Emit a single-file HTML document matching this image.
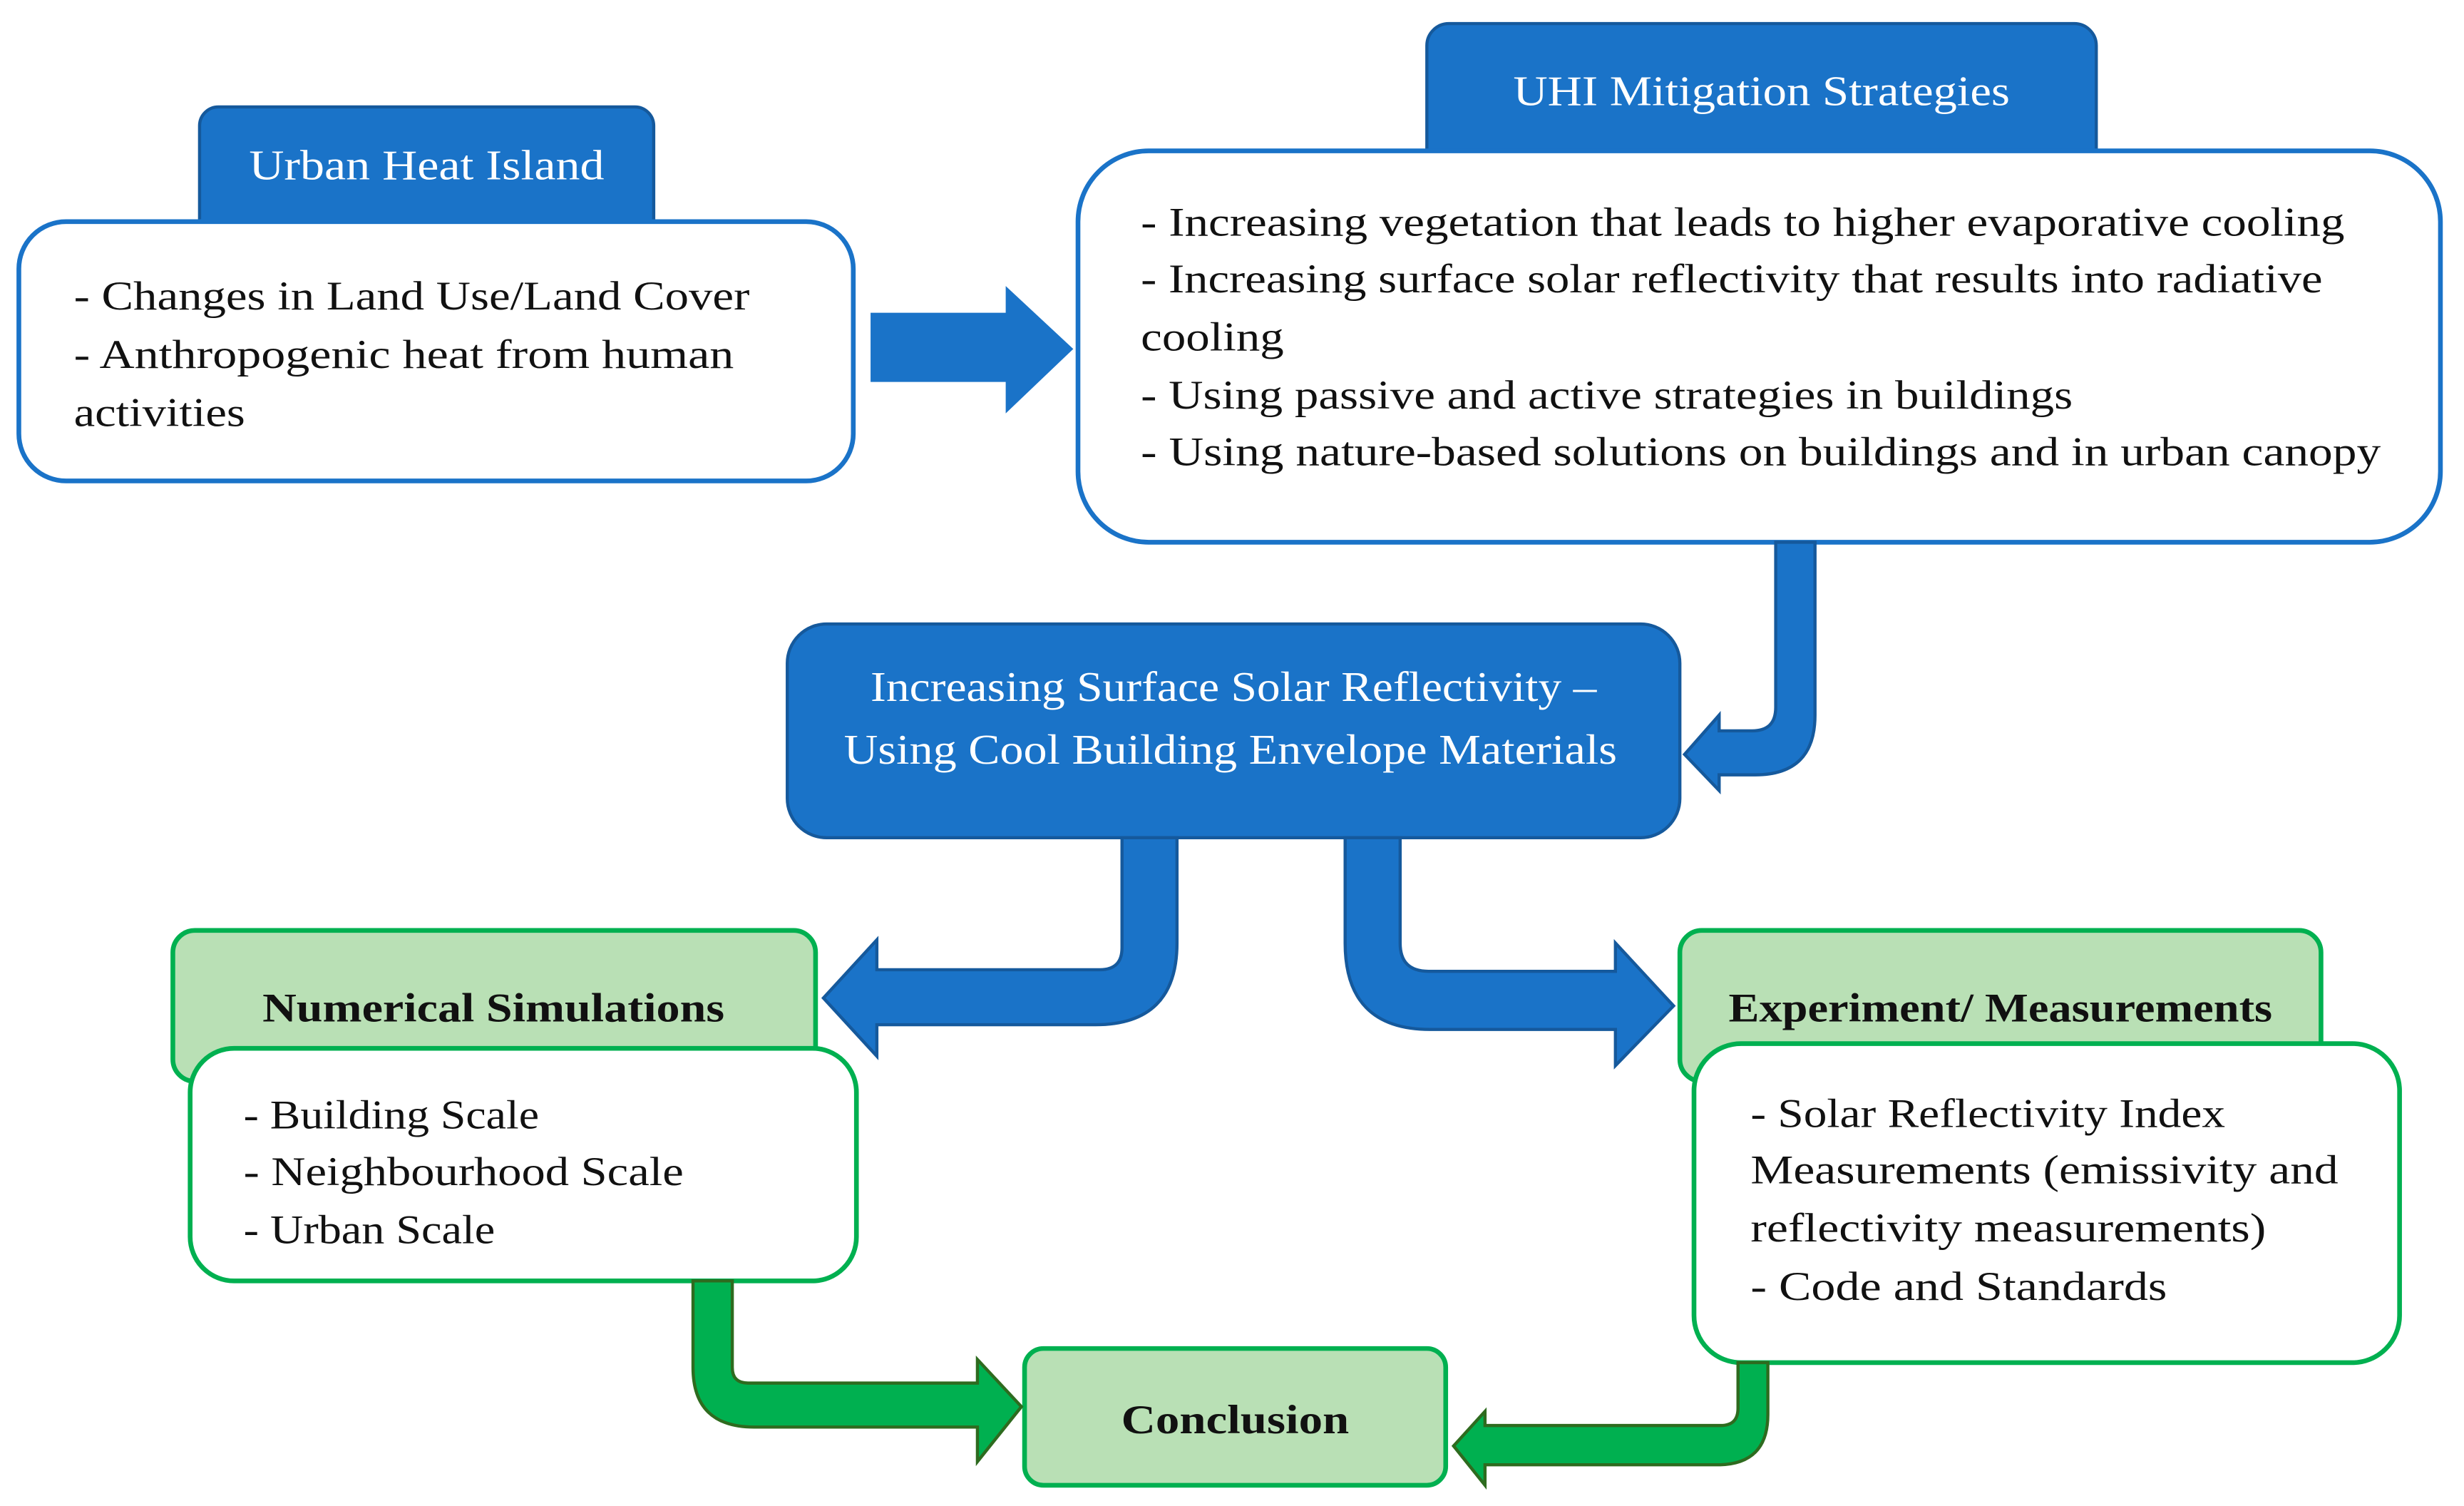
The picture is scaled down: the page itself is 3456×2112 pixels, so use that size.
<!DOCTYPE html>
<html><head><meta charset="utf-8"><style>
html,body{margin:0;padding:0;background:#fff;}
svg{display:block;}
text{font-family:"Liberation Serif",serif;}
</style></head><body>
<svg width="3456" height="2112" viewBox="0 0 1568 958.2" xmlns="http://www.w3.org/2000/svg">
<rect width="1568" height="958.2" fill="#fff"/>
<!-- Urban Heat Island -->
<rect x="127" y="68" width="289" height="90" rx="12" fill="#1a73c8" stroke="#15599c" stroke-width="2"/>
<text x="271.5" y="114" fill="#fff" font-size="27" text-anchor="middle" textLength="226" lengthAdjust="spacingAndGlyphs">Urban Heat Island</text>
<rect x="12" y="141" width="531" height="165" rx="30" fill="#fff" stroke="#1a73c8" stroke-width="3"/>
<g font-size="26" fill="#111">
<text x="47" y="197" textLength="430" lengthAdjust="spacingAndGlyphs">- Changes in Land Use/Land Cover</text>
<text x="47" y="234" textLength="420" lengthAdjust="spacingAndGlyphs">- Anthropogenic heat from human</text>
<text x="47" y="271" textLength="109" lengthAdjust="spacingAndGlyphs">activities</text>
</g>
<!-- straight arrow -->
<path d="M554,199 L640,199 L640,182 L683,222 L640,263 L640,243 L554,243 Z" fill="#1a73c8"/>
<!-- UHI Mitigation -->
<rect x="908" y="15" width="426" height="100" rx="14" fill="#1a73c8" stroke="#15599c" stroke-width="2"/>
<text x="1121" y="67" fill="#fff" font-size="27" text-anchor="middle" textLength="316" lengthAdjust="spacingAndGlyphs">UHI Mitigation Strategies</text>
<rect x="686" y="96" width="867" height="249" rx="45" fill="#fff" stroke="#1a73c8" stroke-width="3"/>
<g font-size="26" fill="#111">
<text x="726" y="150" textLength="766" lengthAdjust="spacingAndGlyphs">- Increasing vegetation that leads to higher evaporative cooling</text>
<text x="726" y="186" textLength="752" lengthAdjust="spacingAndGlyphs">- Increasing surface solar reflectivity that results into radiative</text>
<text x="726" y="223" textLength="91" lengthAdjust="spacingAndGlyphs">cooling</text>
<text x="726" y="260" textLength="593" lengthAdjust="spacingAndGlyphs">- Using passive and active strategies in buildings</text>
<text x="726" y="296" textLength="789" lengthAdjust="spacingAndGlyphs">- Using nature-based solutions on buildings and in urban canopy</text>
</g>
<!-- connector down-left -->
<path d="M1130,345 L1155,345 L1155,455 Q1155,493 1117,493 L1094,493 L1094,503 L1072,480 L1094,455 L1094,465 L1115,465 Q1130,465 1130,450 Z" fill="#1a73c8" stroke="#15599c" stroke-width="2"/>
<!-- central box -->
<rect x="501" y="397" width="568" height="136" rx="25" fill="#1a73c8" stroke="#15599c" stroke-width="2"/>
<text x="785" y="446" fill="#fff" font-size="27" text-anchor="middle" textLength="462" lengthAdjust="spacingAndGlyphs">Increasing Surface Solar Reflectivity –</text>
<text x="783" y="486" fill="#fff" font-size="27" text-anchor="middle" textLength="492" lengthAdjust="spacingAndGlyphs">Using Cool Building Envelope Materials</text>
<!-- bent arrows -->
<path d="M714,533 L749,533 L749,600 Q749,652 697,652 L558,652 L558,672 L524,635 L558,598 L558,617 L700,617 Q714,617 714,603 Z" fill="#1a73c8" stroke="#15599c" stroke-width="2"/>
<path d="M856,533 L891,533 L891,600 Q891,618 909,618 L1028,618 L1028,600 L1065,640 L1028,678 L1028,655 L910,655 Q856,655 856,600 Z" fill="#1a73c8" stroke="#15599c" stroke-width="2"/>
<!-- Numerical -->
<rect x="110" y="592" width="409" height="96" rx="14" fill="#b9e0b5" stroke="#00b050" stroke-width="3"/>
<text x="314" y="650" font-size="26" font-weight="bold" fill="#111" text-anchor="middle" textLength="294" lengthAdjust="spacingAndGlyphs">Numerical Simulations</text>
<rect x="121" y="667" width="424" height="148" rx="28" fill="#fff" stroke="#00b050" stroke-width="3"/>
<g font-size="26" fill="#111">
<text x="155" y="718" textLength="188" lengthAdjust="spacingAndGlyphs">- Building Scale</text>
<text x="155" y="754" textLength="280" lengthAdjust="spacingAndGlyphs">- Neighbourhood Scale</text>
<text x="155" y="791" textLength="160" lengthAdjust="spacingAndGlyphs">- Urban Scale</text>
</g>
<!-- Experiment -->
<rect x="1069" y="592" width="408" height="96" rx="14" fill="#b9e0b5" stroke="#00b050" stroke-width="3"/>
<text x="1273" y="650" font-size="26" font-weight="bold" fill="#111" text-anchor="middle" textLength="346" lengthAdjust="spacingAndGlyphs">Experiment/ Measurements</text>
<rect x="1078" y="664" width="449" height="203" rx="30" fill="#fff" stroke="#00b050" stroke-width="3"/>
<g font-size="26" fill="#111">
<text x="1114" y="717" textLength="302" lengthAdjust="spacingAndGlyphs">- Solar Reflectivity Index</text>
<text x="1114" y="753" textLength="374" lengthAdjust="spacingAndGlyphs">Measurements (emissivity and</text>
<text x="1114" y="790" textLength="328" lengthAdjust="spacingAndGlyphs">reflectivity measurements)</text>
<text x="1114" y="827" textLength="265" lengthAdjust="spacingAndGlyphs">- Code and Standards</text>
</g>
<!-- Conclusion -->
<rect x="652" y="858" width="268" height="87" rx="12" fill="#b9e0b5" stroke="#00b050" stroke-width="3"/>
<text x="786" y="912" font-size="26" font-weight="bold" fill="#111" text-anchor="middle" textLength="145" lengthAdjust="spacingAndGlyphs">Conclusion</text>
<!-- green arrows -->
<path d="M441,815 L466,815 L466,870 Q466,880 476,880 L622,880 L622,865 L650,895 L622,930 L622,908 L480,908 Q441,908 441,870 Z" fill="#00b050" stroke="#2e6b1f" stroke-width="2"/>
<path d="M1106,867 L1125,867 L1125,900 Q1125,932 1093,932 L945,932 L945,945 L925,920 L945,898 L945,907 L1095,907 Q1106,907 1106,896 Z" fill="#00b050" stroke="#2e6b1f" stroke-width="2"/>
</svg>
</body></html>
